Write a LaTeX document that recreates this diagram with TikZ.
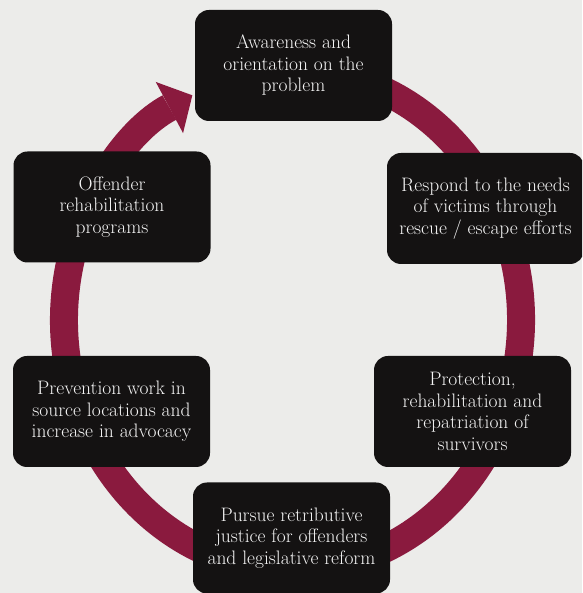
\documentclass[tikz,border=0pt]{standalone}
\usetikzlibrary{arrows.meta}
\definecolor{bgpaper}{RGB}{236,236,234}
\definecolor{ringred}{RGB}{138,26,62}
\definecolor{boxblack}{RGB}{20,18,18}
\definecolor{boxtext}{RGB}{245,245,245}
\tikzset{
  stagebox/.style={fill=boxblack, draw=none, rounded corners=14pt,
    minimum width=197pt, minimum height=111pt, inner sep=0pt,
    align=center, text=boxtext,
    font=\fontsize{19.5}{21.5}\selectfont},
  cyclering/.style={draw=ringred, line width=28pt,
    -{Triangle[length=26pt,width=58pt,line width=0pt]}}
}
\begin{document}
\begin{tikzpicture}[x=1pt,y=1pt]
  \fill[bgpaper] (0,0) rectangle (582,593);
  \useasboundingbox (0,0) rectangle (582,593);
  \clip (0,0) rectangle (582,593);
  \coordinate (c) at (292.5,273);
  \draw[cyclering] ([shift={(80:228.5 and 250)}]c)
     arc[start angle=80, end angle=-244, x radius=228.5, y radius=250];
  \node[stagebox] (aware) at (293.5,527.5) {Awareness and\\orientation on the\\problem};
  \node[stagebox] (respond) at (485.5,384.5) {Respond to the needs\\of victims through\\rescue / escape efforts};
  \node[stagebox] (protect) at (472.5,181.5) {Protection,\\rehabilitation and\\repatriation of\\survivors};
  \node[stagebox] (pursue) at (291.5,55) {Pursue retributive\\justice for offenders\\and legislative reform};
  \node[stagebox] (prevent) at (111.5,181.5) {Prevention work in\\source locations and\\increase in advocacy};
  \node[stagebox] (offender) at (112,386) {Offender\\rehabilitation\\programs};
\end{tikzpicture}
\end{document}
